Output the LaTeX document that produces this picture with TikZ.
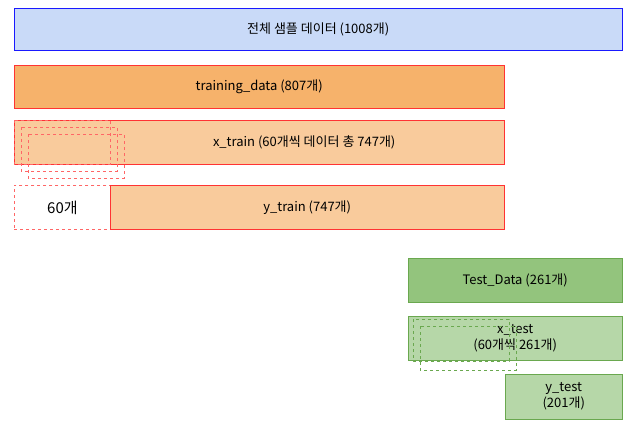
\documentclass[tikz,border=0pt]{standalone}
\usepackage{fontspec}
\setmainfont{Noto Sans CJK KR}
\definecolor{allfill}{HTML}{C9DAF8}
\definecolor{trainfill}{HTML}{F6B26B}
\definecolor{xtrainfill}{HTML}{F9CB9C}
\definecolor{testfill}{HTML}{93C47D}
\definecolor{xtestfill}{HTML}{B6D7A8}
\definecolor{greenline}{HTML}{6AA84F}

\begin{document}
\begin{tikzpicture}[x=1pt, y=-1pt, font=\fontsize{13}{16}\selectfont]
      \tikzstyle{block}=[rectangle, anchor=north west, inner sep=0pt, align=center]
      \tikzstyle{redbox}=[block, draw=red!80]
      \tikzstyle{greenbox}=[block, draw=greenline]
      \tikzstyle{reddash}=[draw=red!60, dashed, thick]
      \tikzstyle{greendash}=[draw=greenline, dashed, thick]

      \useasboundingbox (0,0) rectangle (629,426);

      % all samples
      \node[block, draw=blue!90, fill=allfill, minimum width=608pt, minimum height=42pt] (all) at (14,8) {전체 샘플 데이터 (1008개)};

      % training
      \node[redbox, fill=trainfill, minimum width=490pt, minimum height=43pt] (train) at (14,65) {training\_data (807개)};
      \node[redbox, fill=xtrainfill, minimum width=490pt, minimum height=44pt] (xtrain) at (14,120) {\hspace*{90pt}x\_train (60개씩 데이터 총 747개)};
      \draw[reddash] (14,120) rectangle (110,164);
      \draw[reddash] (21,127) rectangle (117,171);
      \draw[reddash] (28,134) rectangle (124,178);
      \node[block, reddash, minimum width=96pt, minimum height=44pt] (window) at (14,185) {\fontsize{15}{18}\selectfont 60개};
      \node[redbox, fill=xtrainfill, minimum width=394pt, minimum height=44pt] (ytrain) at (110,185) {y\_train (747개)};

      % test
      \node[greenbox, fill=testfill, minimum width=214pt, minimum height=44pt] (test) at (408,258) {Test\_Data (261개)};
      \node[greenbox, fill=xtestfill, minimum width=214pt, minimum height=44pt] (xtest) at (408,316) {x\_test\\(60개씩 261개)};
      \draw[greendash] (413,319) rectangle (509,361);
      \draw[greendash] (420,326) rectangle (516,370);
      \node[greenbox, fill=xtestfill, minimum width=117pt, minimum height=45pt] (ytest) at (505,374) {y\_test\\(201개)};
\end{tikzpicture}
\end{document}
